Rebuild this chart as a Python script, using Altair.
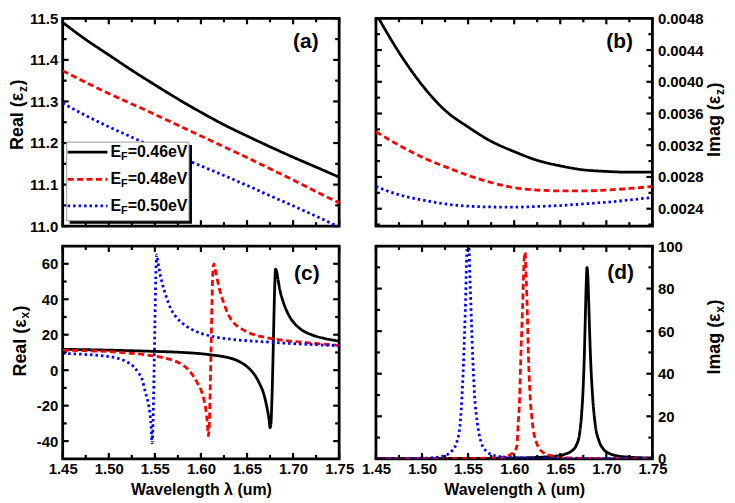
import altair as alt
import pandas as pd

FONT = "Liberation Sans"

# ---------------- data ----------------
series = ["0.46", "0.48", "0.50"]
ef_text = ["=0.46eV", "=0.48eV", "=0.50eV"]
colors = ["#000000", "#ff0000", "#0000ff"]
dashes = [[1, 0], [6, 3.5], [2.5, 3]]
panel_labels = ["(a)", "(b)", "(c)", "(d)"]
ytitle_main = ["Real (ε", "Imag (ε", "Real (ε", "Imag (ε"]
ytitle_sub = ["z", "z", "x", "x"]
xtitle = "Wavelength λ (um)"

x_major = [1.45, 1.50, 1.55, 1.60, 1.65, 1.70, 1.75]
x_minor = [1.475, 1.525, 1.575, 1.625, 1.675, 1.725]

# (a) Real(eps_z)
lam_a = [1.45, 1.475, 1.50, 1.525, 1.55, 1.575, 1.60, 1.625, 1.65, 1.675, 1.70, 1.725, 1.75]
a_046 = [11.490, 11.449, 11.412, 11.375, 11.340, 11.306, 11.274, 11.244, 11.217, 11.191, 11.166, 11.142, 11.118]
a_048 = [11.374, 11.346, 11.319, 11.294, 11.269, 11.243, 11.217, 11.191, 11.165, 11.138, 11.111, 11.083, 11.056]
a_050 = [11.296, 11.266, 11.239, 11.214, 11.190, 11.168, 11.145, 11.122, 11.098, 11.073, 11.049, 11.024, 10.998]

# (b) Imag(eps_z)
lam_b = lam_a
b_046 = [0.00486, 0.00437, 0.00396, 0.00364, 0.00343, 0.00325, 0.00312, 0.00301, 0.00294, 0.00289, 0.00287, 0.00286, 0.00286]
b_048 = [0.00337, 0.00320, 0.00305, 0.00293, 0.00282, 0.00273, 0.002665, 0.002635, 0.002625, 0.002625, 0.002635, 0.002655, 0.00268]
b_050 = [0.00268, 0.002575, 0.00251, 0.00246, 0.002432, 0.002422, 0.00242, 0.002428, 0.00244, 0.00246, 0.002482, 0.00251, 0.002542]

# (c) Real(eps_x)
lam_c_046 = [1.45, 1.50, 1.55, 1.58, 1.60, 1.615, 1.625, 1.635, 1.643, 1.65, 1.655, 1.66, 1.664, 1.667,
             1.670, 1.672, 1.674, 1.675, 1.676, 1.677, 1.678, 1.679, 1.680, 1.681, 1.682, 1.684, 1.686,
             1.689, 1.693, 1.697, 1.703, 1.71, 1.72, 1.735, 1.75]
c_046 = [11.8, 11.3, 10.6, 10.0, 9.3, 8.4, 7.6, 6.3, 4.5, 2.0, -0.5, -4, -8, -11.5,
         -17, -22, -28, -32.5, -30, -17, 2, 25, 46, 57, 56, 50, 44.5,
         39, 33.5, 29.5, 25.5, 22.5, 20, 17.8, 16.4]
lam_c_048 = [1.45, 1.48, 1.50, 1.52, 1.54, 1.555, 1.57, 1.58, 1.587, 1.592, 1.597, 1.600, 1.603, 1.605,
             1.606, 1.607, 1.608, 1.609, 1.610, 1.611, 1.612, 1.613, 1.614, 1.615, 1.617, 1.620, 1.624,
             1.63, 1.637, 1.645, 1.655, 1.67, 1.69, 1.71, 1.73, 1.75]
c_048 = [11.3, 10.9, 10.5, 9.7, 8.7, 7.5, 5.5, 3.0, 0.0, -3.5, -8, -11, -16, -21,
         -25, -30, -37, -32, -12, 12, 38, 56, 60, 58, 53, 46, 39,
         31, 26, 23, 20.5, 18.5, 16.8, 15.8, 14.8, 14.0]
lam_c_050 = [1.45, 1.47, 1.49, 1.50, 1.51, 1.52, 1.527, 1.532, 1.536, 1.540, 1.543, 1.545, 1.546, 1.547,
             1.548, 1.549, 1.550, 1.551, 1.552, 1.553, 1.555, 1.558, 1.562, 1.567, 1.573, 1.58, 1.59,
             1.60, 1.615, 1.635, 1.66, 1.70, 1.75]
c_050 = [9.5, 9.0, 8.3, 7.7, 6.7, 4.6, 2.0, -1.3, -5, -13, -19, -26, -32, -41,
         -30, -5, 25, 52, 65, 62, 56, 49, 42, 35, 30, 26.5, 23,
         20.8, 18.8, 17.3, 16.3, 15.0, 13.8]

# (d) Imag(eps_x)
lam_d_046 = [1.45, 1.55, 1.60, 1.63, 1.645, 1.655, 1.662, 1.667, 1.671, 1.673, 1.675, 1.676, 1.677, 1.678,
             1.679, 1.680, 1.681, 1.682, 1.683, 1.685, 1.688, 1.692, 1.697, 1.703, 1.712, 1.725, 1.75]
d_046 = [0.1, 0.2, 0.4, 0.8, 1.3, 2.2, 3.6, 6, 12, 20, 35, 47, 63, 80,
         90, 85, 72, 58, 46, 30, 16, 8.5, 4.5, 2.6, 1.4, 0.8, 0.4]
lam_d_048 = [1.45, 1.55, 1.58, 1.59, 1.596, 1.600, 1.603, 1.604, 1.606, 1.607, 1.609, 1.611, 1.6118,
             1.613, 1.6145, 1.6155, 1.617, 1.62, 1.624, 1.63, 1.64, 1.655, 1.68, 1.75]
d_048 = [0.05, 0.15, 0.5, 1.0, 2.0, 3.5, 6, 14, 30, 45, 70, 95, 97,
         85, 65, 48, 32, 16, 8, 3.5, 1.5, 0.6, 0.2, 0.05]
lam_d_050 = [1.45, 1.50, 1.515, 1.525, 1.532, 1.537, 1.541, 1.544, 1.545, 1.547, 1.549, 1.5505, 1.552,
             1.554, 1.555, 1.557, 1.56, 1.564, 1.57, 1.58, 1.60, 1.65, 1.75]
d_050 = [0.1, 0.3, 0.7, 1.6, 3.5, 7, 15, 35, 45, 70, 100, 102, 85,
         60, 48, 30, 17, 8, 3.5, 1.4, 0.5, 0.2, 0.1]


def long_df(pairs):
    rows = []
    for s, (lams, vals) in zip(series, pairs):
        for l, v in zip(lams, vals):
            rows.append({"lam": l, "val": v, "s": s})
    return pd.DataFrame(rows)


df_a = long_df([(lam_a, a_046), (lam_a, a_048), (lam_a, a_050)])
df_b = long_df([(lam_b, b_046), (lam_b, b_048), (lam_b, b_050)])
df_c = long_df([(lam_c_046, c_046), (lam_c_048, c_048), (lam_c_050, c_050)])
df_d = long_df([(lam_d_046, d_046), (lam_d_048, d_048), (lam_d_050, d_050)])

W = 278
H_TOP = 209
H_BOT = 214
LW = 2.8
MAJ, MIN_ = 6, 4


def panel(i, df, H, ydom, ymaj, ymin, side, xlab, lexpr, lab_pos, title_pos, wmain, wsub, legend=False):
    xs = alt.Scale(domain=[1.45, 1.75], nice=False, zero=False)
    ys = alt.Scale(domain=ydom, nice=False, zero=False)
    base = alt.Chart(df)
    if xlab:
        xaxis = alt.Axis(orient="bottom", values=x_major, format=".2f", ticks=False, tickSize=0,
                         domain=False, grid=False, labelPadding=3, labelFlush=False,
                         labelOverlap=False, title=xtitle, titlePadding=5)
    else:
        xaxis = None
    yaxis = alt.Axis(orient=side, values=ymaj, labelExpr=lexpr, ticks=False, tickSize=0,
                     domain=False, grid=False, labelPadding=5, labelFlush=False,
                     labelOverlap=False, title=None)
    lines = base.mark_line(strokeWidth=LW, clip=True, interpolate="monotone").encode(
        x=alt.X("lam:Q", scale=xs, axis=xaxis),
        y=alt.Y("val:Q", scale=ys, axis=yaxis),
        color=alt.Color("s:N", scale=alt.Scale(domain=series, range=colors), legend=None),
        strokeDash=alt.StrokeDash("s:N", scale=alt.Scale(domain=series, range=dashes), legend=None),
        order=alt.Order("lam:Q"),
    )

    layers = [lines]

    # inward ticks on all four sides, positioned through the shared scales
    dx_maj = pd.DataFrame({"tx": x_major})
    dx_min = pd.DataFrame({"tx": x_minor})
    dy_maj = pd.DataFrame({"ty": ymaj})
    dy_min = pd.DataFrame({"ty": ymin})
    for dxx, size in ((dx_maj, MAJ), (dx_min, MIN_)):
        for a0, a1 in ((0, size), (H, H - size)):
            layers.append(alt.Chart(dxx).mark_rule(color="black", strokeWidth=2.2).encode(
                x=alt.X("tx:Q", scale=xs, axis=None), y=alt.value(a0), y2=alt.value(a1)))
    for dyy, size in ((dy_maj, MAJ), (dy_min, MIN_)):
        for a0, a1 in ((0, size), (W, W - size)):
            layers.append(alt.Chart(dyy).mark_rule(color="black", strokeWidth=2.2).encode(
                y=alt.Y("ty:Q", scale=ys, axis=None), x=alt.value(a0), x2=alt.value(a1)))

    if legend:
        one = pd.DataFrame({"k": [0]})
        bx1, bx2, by1, by2 = 4, 127, 124.5, 203.5
        layers.append(alt.Chart(one).mark_rect(color="black").encode(
            x=alt.value(bx1 + 3), x2=alt.value(bx2 + 3), y=alt.value(by1 + 3), y2=alt.value(by2 + 3)))
        layers.append(alt.Chart(one).mark_rect(fill="white", stroke="#9a9a9a", strokeWidth=1).encode(
            x=alt.value(bx1), x2=alt.value(bx2), y=alt.value(by1), y2=alt.value(by2)))
        rows_y = [134.5, 162, 188.5]
        for s, c, d, t, ry in zip(series, colors, dashes, ef_text, rows_y):
            dd = pd.DataFrame({"s": [s], "t": [t], "e": ["E"], "f": ["F"]})
            layers.append(alt.Chart(dd).mark_rule(color=c, strokeDash=d, strokeWidth=LW).encode(
                x=alt.value(5), x2=alt.value(45), y=alt.value(ry)))
            layers.append(alt.Chart(dd).mark_text(font=FONT, fontWeight="bold", fontSize=16, align="left",
                                                  baseline="middle", color="black").encode(
                text="e:N", x=alt.value(48), y=alt.value(ry)))
            layers.append(alt.Chart(dd).mark_text(font=FONT, fontWeight="bold", fontSize=11, align="left",
                                                  baseline="middle", color="black").encode(
                text="f:N", x=alt.value(58.7), y=alt.value(ry + 5)))
            layers.append(alt.Chart(dd).mark_text(font=FONT, fontWeight="bold", fontSize=16, align="left",
                                                  baseline="middle", color="black").encode(
                text="t:N", x=alt.value(65.4), y=alt.value(ry)))

    # panel label
    lab = pd.DataFrame({"t": [panel_labels[i]]})
    layers.append(alt.Chart(lab).mark_text(font=FONT, fontWeight="bold", fontSize=21, align="center",
                                           baseline="middle", color="black").encode(
        text="t:N", x=alt.value(lab_pos[0]), y=alt.value(lab_pos[1])))

    # y title with subscript
    ax, y0 = title_pos
    tt = pd.DataFrame({"m": [ytitle_main[i]], "s": [ytitle_sub[i]], "c": [")"]})
    tkw = dict(font=FONT, fontWeight="bold", align="left", baseline="alphabetic", angle=270, color="black")
    layers.append(alt.Chart(tt).mark_text(fontSize=18, **tkw).encode(
        text="m:N", x=alt.value(ax), y=alt.value(y0)))
    layers.append(alt.Chart(tt).mark_text(fontSize=12, **tkw).encode(
        text="s:N", x=alt.value(ax + 3.5), y=alt.value(y0 - wmain - 0.5)))
    layers.append(alt.Chart(tt).mark_text(fontSize=18, **tkw).encode(
        text="c:N", x=alt.value(ax), y=alt.value(y0 - wmain - wsub - 1)))

    return alt.layer(*layers).resolve_axis(x="independent", y="independent").properties(width=W, height=H)


pa = panel(0, df_a, H_TOP, [11.0, 11.5], [11.0, 11.1, 11.2, 11.3, 11.4, 11.5],
           [11.05, 11.15, 11.25, 11.35, 11.45], "left", False,
           "format(datum.value, '.1f')", (244.5, 24), (-39.6, 132.4), 57.8, 6.0, legend=True)
pb = panel(1, df_b, H_TOP, [0.00218, 0.0048], [0.0024, 0.0028, 0.0032, 0.0036, 0.0040, 0.0044, 0.0048],
           [0.0022, 0.0026, 0.0030, 0.0034, 0.0038, 0.0042, 0.0046], "right", False,
           "format(datum.value, '.4f')", (245, 24), (346, 139.4), 61.8, 6.0)
pc = panel(2, df_c, H_BOT, [-50, 70], [-40, -20, 0, 20, 40, 60],
           [-30, -10, 10, 30, 50], "left", True,
           "datum.value < 0 ? '-' + format(-datum.value, 'd') : format(datum.value, 'd')",
           (245.5, 28), (-37, 131.2), 57.8, 6.7)
pdd = panel(3, df_d, H_BOT, [0, 100], [0, 20, 40, 60, 80, 100],
            [10, 30, 50, 70, 90], "right", True,
            "format(datum.value, 'd')", (246, 27), (346, 129.25), 61.8, 6.7)

chart = alt.concat(pa, pb, pc, pdd, columns=2, spacing={"row": 20, "column": 37}, bounds="flush").properties(
    padding={"left": 0, "top": 0, "right": 0, "bottom": 0}
).configure_view(
    stroke="black", strokeWidth=2.8
).configure_axis(
    labelFont=FONT, labelFontSize=15, labelFontWeight="bold", labelColor="black",
    titleFont=FONT, titleFontSize=16, titleFontWeight="bold", titleColor="black", minExtent=0
)

chart.save("out.html", embed_options={"renderer": "svg", "actions": False})
